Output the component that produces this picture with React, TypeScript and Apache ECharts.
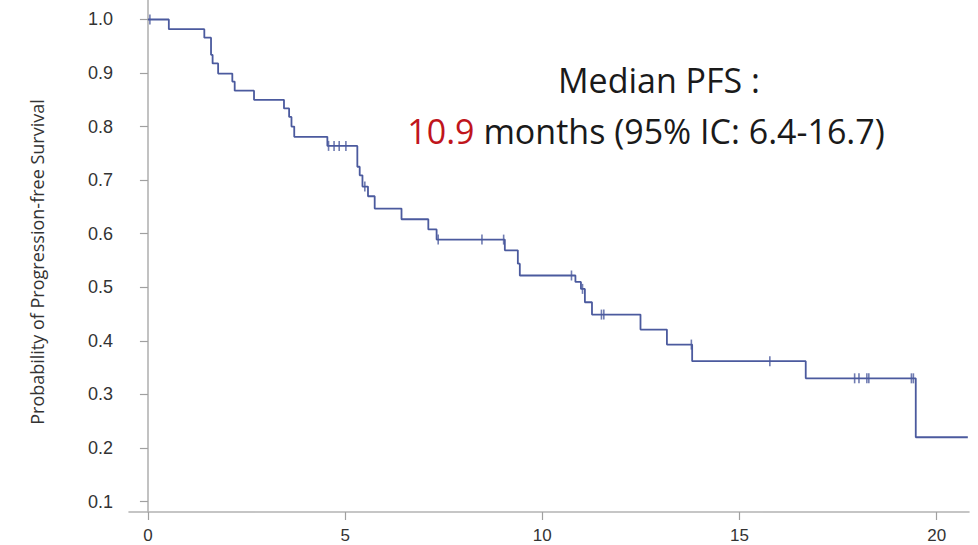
import React, { useEffect, useRef } from "react";
import * as echarts from "echarts";

// Kaplan–Meier estimate: months at which the curve steps, and survival after each step
const EVENT_MONTHS = [
  0, 0.53, 1.43, 1.6, 1.64, 1.78, 2.14, 2.2, 2.69, 3.45, 3.58, 3.64, 3.71, 4.55,
  5.31, 5.37, 5.44, 5.58, 5.75, 6.43, 7.11, 7.32, 9.05, 9.38, 9.43, 10.84, 10.98,
  11.08, 11.26, 12.49, 13.16, 13.8, 16.68, 19.47, 20.79,
];
const SURVIVAL = [
  1.0, 0.982, 0.966, 0.934, 0.918, 0.899, 0.884, 0.867, 0.85, 0.834, 0.818, 0.8,
  0.781, 0.764, 0.725, 0.709, 0.688, 0.67, 0.647, 0.627, 0.608, 0.589, 0.569,
  0.544, 0.522, 0.51, 0.497, 0.472, 0.449, 0.421, 0.393, 0.362, 0.33, 0.22, 0.22,
];

// Censored observations (months)
const CENSOR_MONTHS = [
  0.05, 4.58, 4.72, 4.85, 5.02, 5.5, 7.36, 8.47, 9.02, 10.74, 11.02, 11.5, 11.56,
  13.78, 15.77, 17.92, 18.03, 18.23, 18.28, 19.36, 19.41,
];

const Y_TICKS = [0.1, 0.2, 0.3, 0.4, 0.5, 0.6, 0.7, 0.8, 0.9, 1.0];
const X_TICKS = [0, 5, 10, 15, 20];

const Y_TITLE = "Probability of Progression-free Survival";
const MEDIAN_TITLE = "Median PFS :";
const MEDIAN_LABEL = "10.9";
const MEDIAN_REST = " months (95% IC: 6.4-16.7)";

const LINE_COLOR = "#4b5a9e";
const TEXT_FONT = "Open Sans, sans-serif";
const TICK_FONT = "Liberation Sans, Arial, sans-serif";

// survival value of the step function at time t
function survivalAt(t: number): number {
  let s = SURVIVAL[0];
  for (let i = 0; i < EVENT_MONTHS.length; i++) {
    if (EVENT_MONTHS[i] <= t) s = SURVIVAL[i];
  }
  return s;
}

export default function App() {
  const ref = useRef<HTMLDivElement>(null);

  useEffect(() => {
    if (!ref.current) return;
    const chart = echarts.init(ref.current, undefined, { renderer: "svg" });

    const curve = EVENT_MONTHS.map((t, i) => [t, SURVIVAL[i]]);
    const censored = CENSOR_MONTHS.map((t) => [t, survivalAt(t)]);

    chart.setOption({
      animation: false,
      backgroundColor: "#ffffff",
      grid: { left: 129, right: 9, top: 0, bottom: 33 },
      xAxis: {
        type: "value",
        min: -0.48,
        max: 20.82,
        axisLine: { show: true, lineStyle: { color: "#b3b3b3", width: 1.6 } },
        axisTick: {
          show: true,
          length: 8,
          customValues: X_TICKS,
          lineStyle: { color: "#a0a0a0", width: 1.2 },
        },
        axisLabel: {
          customValues: X_TICKS,
          margin: 15,
          fontFamily: TICK_FONT,
          fontSize: 17,
          color: "#333333",
        },
        splitLine: { show: false },
      },
      yAxis: {
        type: "value",
        min: 0.0804,
        max: 1.0364,
        axisLine: { show: true, lineStyle: { color: "#b3b3b3", width: 1.6 } },
        axisTick: {
          show: true,
          length: 8,
          customValues: Y_TICKS,
          lineStyle: { color: "#a0a0a0", width: 1.2 },
        },
        axisLabel: {
          customValues: Y_TICKS,
          margin: 16,
          formatter: (v: number) => v.toFixed(1),
          fontFamily: TICK_FONT,
          fontSize: 18,
          color: "#333333",
        },
        splitLine: { show: false },
      },
      series: [
        {
          type: "line",
          step: "end",
          data: curve,
          symbol: "none",
          lineStyle: { color: LINE_COLOR, width: 1.8 },
          z: 2,
        },
        {
          type: "scatter",
          data: censored,
          symbol: "rect",
          symbolSize: [1.6, 10],
          itemStyle: { color: LINE_COLOR },
          z: 3,
        },
      ],
      graphic: [
        {
          type: "text",
          x: 37,
          y: 262,
          rotation: Math.PI / 2,
          style: {
            text: Y_TITLE,
            align: "center",
            verticalAlign: "middle",
            fontFamily: TEXT_FONT,
            fontSize: 18,
            fill: "#333333",
          },
        },
        {
          type: "text",
          x: 659,
          y: 80,
          style: {
            text: MEDIAN_TITLE,
            align: "center",
            verticalAlign: "middle",
            fontFamily: TEXT_FONT,
            fontSize: 34,
            fill: "#1a1a1a",
          },
        },
        {
          type: "text",
          x: 646,
          y: 131,
          style: {
            text: "{r|" + MEDIAN_LABEL + "}{k|" + MEDIAN_REST + "}",
            align: "center",
            verticalAlign: "middle",
            rich: {
              r: { fontFamily: TEXT_FONT, fontSize: 34, fill: "#c0151c" },
              k: { fontFamily: TEXT_FONT, fontSize: 34, fill: "#1a1a1a" },
            },
          },
        },
      ],
    });

    return () => chart.dispose();
  }, []);

  return (
    <div
      ref={ref}
      style={{ position: "absolute", left: 0, top: 0, width: 978, height: 545 }}
    />
  );
}
